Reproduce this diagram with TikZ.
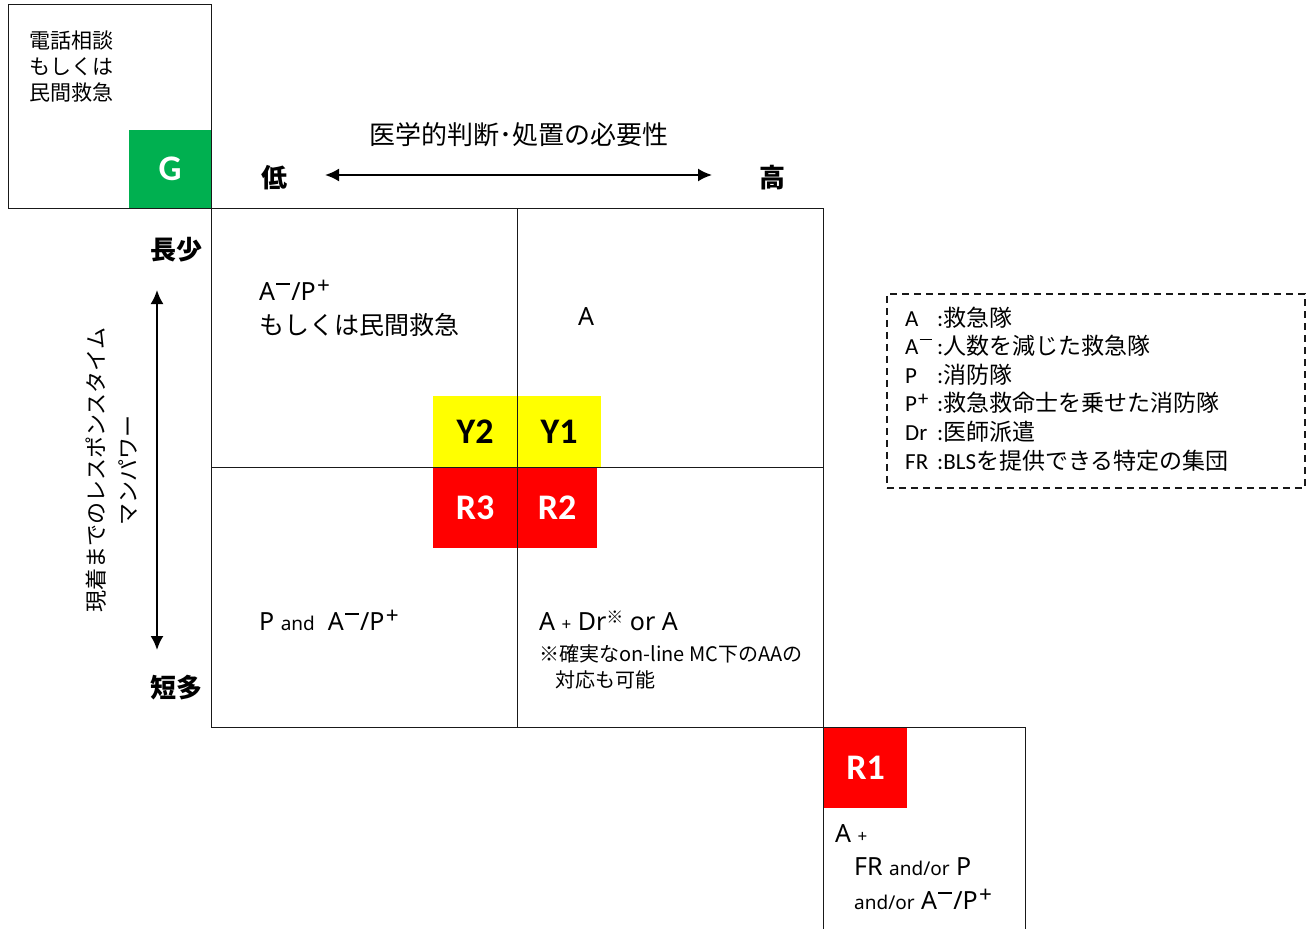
\documentclass[tikz,border=0pt]{standalone}
\usepackage{fontspec}
\usepackage{graphicx}
\setmainfont{Carlito}
\newfontfamily\jp{Noto Sans CJK JP}
\newfontfamily\lt{Noto Sans}
\usetikzlibrary{arrows.meta}
\definecolor{gGreen}{RGB}{0,176,80}
\definecolor{yYellow}{RGB}{255,255,0}
\definecolor{rRed}{RGB}{255,0,0}
\definecolor{lineC}{RGB}{25,25,25}
\newcommand\supminus{\kern0.05em\raisebox{0.6em}{\rule{0.55em}{0.065em}}\kern0.05em}
\newcommand\supplus{\kern0.05em\raisebox{0.25em}{\scalebox{0.9}{+}}}
\newcommand\fs[2]{\fontsize{#1}{#2}\selectfont}
\newcommand\Am{A\supminus}
\newcommand\Pp{P\supplus}
\tikzset{
  box/.style={draw=lineC, line width=1pt, inner sep=0pt, outer sep=0pt},
  tag/.style={inner sep=0pt, outer sep=0pt, font=\bfseries\fs{36}{40}},
  arr/.style={draw=black, line width=2pt, {Latex[length=14pt,width=13pt]}-{Latex[length=14pt,width=13pt]}},
  txt/.style={inner sep=0pt, anchor=base west},
  jtxt/.style={inner sep=0pt, anchor=base west, font=\jp\fs{25}{30}},
  ltxt/.style={inner sep=0pt, anchor=base west, font=\lt\fs{25}{30}},
  legl/.style={inner sep=0pt, anchor=base west, font=\fs{23}{28}},
  legt/.style={inner sep=0pt, anchor=base west, font=\fs{23}{28}},
}
\begin{document}
\begin{tikzpicture}[x=1pt,y=-1pt]
\useasboundingbox (0,0) rectangle (1313,928);

% top-left box with G
\node[tag, fill=gGreen, text=white, minimum width=82pt, minimum height=78pt, anchor=north west] (G) at (129,130) {G};
\node[box, minimum width=203pt, minimum height=203pt, anchor=north west] (tl) at (8,5) {};
\node[inner sep=0pt, anchor=north west, align=left, font=\jp\fs{21}{26}] (tltext) at (29,31) {電話相談\\もしくは\\民間救急};

% horizontal axis
\node[inner sep=0pt, font=\jp\fs{26}{30}] (title) at (519,135) {医学的判断･処置の必要性};
\node[inner sep=0pt, font=\jp\bfseries\fs{26}{30}] (low) at (274,178) {低};
\node[inner sep=0pt, font=\jp\bfseries\fs{26}{30}] (high) at (772,178) {高};
\coordinate (hL) at (325,175);
\coordinate (hR) at (712,175);
\draw[arr] (hL) -- (hR);

% vertical axis
\node[inner sep=0pt, font=\jp\bfseries\fs{26}{30}] (long) at (176,250) {長少};
\node[inner sep=0pt, font=\jp\bfseries\fs{26}{30}] (short) at (176,688) {短多};
\coordinate (vT) at (157,290);
\coordinate (vB) at (157,650);
\draw[arr] (vT) -- (vB);
\node[inner sep=0pt, rotate=90, align=center, font=\jp\fs{22}{32}] (vtext) at (112,470) {現着までのレスポンスタイム\\マンパワー};

% grid
\node[box, minimum width=612pt, minimum height=519pt, anchor=north west] (grid) at (211,208) {};
\node[tag, fill=yYellow, text=black, minimum width=84pt, minimum height=72pt, anchor=south east] (Y2) at (grid.center) {Y2};
\node[tag, fill=yYellow, text=black, minimum width=84pt, minimum height=72pt, anchor=south west] (Y1) at (grid.center) {Y1};
\node[tag, fill=rRed, text=white, minimum width=84pt, minimum height=80pt, anchor=north east] (R3) at (grid.center) {R3};
\node[tag, fill=rRed, text=white, minimum width=80pt, minimum height=80pt, anchor=north west] (R2) at (grid.center) {R2};
\draw[draw=lineC, line width=1pt] (grid.north) -- (grid.south);
\draw[draw=lineC, line width=1pt] (grid.west) -- (grid.east);

% quadrant texts
\node[ltxt] (q1a) at (259,300) {\Am/\Pp};
\node[jtxt] (q1b) at (259,334) {もしくは民間救急};
\node[ltxt, anchor=base] (q2) at (586,325) {A};
\node[ltxt] (q3) at (259,630) {P {\fs{19}{24}and}\ \ \Am/\Pp};
\node[ltxt] (q4a) at (539,630) {A {\fs{17}{24}+} Dr\raisebox{0.5ex}{\jp\fs{17}{20}※} or A};
\node[txt, font=\jp\fs{20}{24}] (q4b) at (539,661) {※確実なon-line MC下のAAの};
\node[txt, font=\jp\fs{20}{24}] (q4c) at (555,687) {対応も可能};

% R1 box
\node[box, minimum width=202pt, minimum height=240pt, anchor=north west] (r1box) at (grid.south east) {};
\node[tag, fill=rRed, text=white, minimum width=83pt, minimum height=80pt, anchor=north west] (R1) at (824,728) {R1};
\node[ltxt] (r1a) at (835,842) {A {\fs{17}{24}+}};
\node[ltxt] (r1b) at (854,875) {FR {\fs{19}{24}and/or} P};
\node[ltxt] (r1c) at (854,909) {{\fs{19}{24}and/or} \Am/\Pp};

% legend
\node[draw=lineC, line width=1.5pt, dash pattern=on 7pt off 5pt, inner sep=0pt, minimum width=418pt, minimum height=194pt, anchor=north west] (legend) at (886,293) {};
\node[legl] (l1) at (905,326) {A};
\node[legt] (t1) at (937,326) {:\jp 救急隊};
\node[legl] (l2) at (905,354) {\Am};
\node[legt] (t2) at (937,354) {:\jp 人数を減じた救急隊};
\node[legl] (l3) at (905,383) {P};
\node[legt] (t3) at (937,383) {:\jp 消防隊};
\node[legl] (l4) at (905,411) {\Pp};
\node[legt] (t4) at (937,411) {:\jp 救急救命士を乗せた消防隊};
\node[legl] (l5) at (905,440) {Dr};
\node[legt] (t5) at (937,440) {:\jp 医師派遣};
\node[legl] (l6) at (905,469) {FR};
\node[legt] (t6) at (937,469) {:BLS\jp を提供できる特定の集団};
\end{tikzpicture}
\end{document}
